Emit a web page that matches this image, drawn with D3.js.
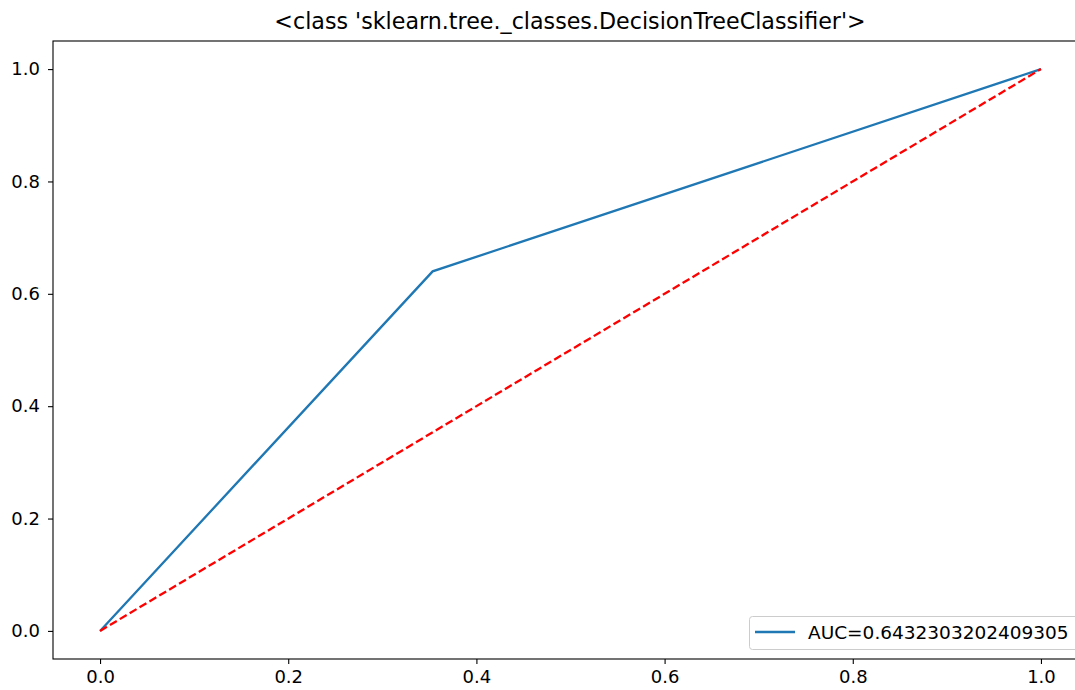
<!DOCTYPE html>
<html><head><meta charset="utf-8">
<script src="https://cdn.jsdelivr.net/npm/d3@7"></script>
<style>body{margin:0;background:#fff;} svg{display:block;font-family:"DejaVu Sans",sans-serif;}</style>
</head><body>
<script>
const title = "<class 'sklearn.tree._classes.DecisionTreeClassifier'>";
const fpr = [0.0, 0.3535, 1.0];
const tpr = [0.0, 0.64, 1.0];
const diagX = [0, 1];
const diagY = [0, 1];
const legendLabel = "AUC=0.6432303202409305";
const xTicks = [0.0, 0.2, 0.4, 0.6, 0.8, 1.0];
const yTicks = [0.0, 0.2, 0.4, 0.6, 0.8, 1.0];

const W = 1075, H = 690;
const svg = d3.select("body").append("svg").attr("width", W).attr("height", H);
const x = d3.scaleLinear().domain([-0.05, 1.05]).range([53, 1088]);
const y = d3.scaleLinear().domain([-0.05, 1.05]).range([659, 41]);

const fmt = d3.format(".1f");
const xa = svg.append("g").attr("transform", `translate(0,${y(-0.05)})`)
  .call(d3.axisBottom(x).tickValues(xTicks).tickFormat(fmt).tickSize(5).tickPadding(6));
const ya = svg.append("g").attr("transform", `translate(${x(-0.05)},0)`)
  .call(d3.axisLeft(y).tickValues(yTicks).tickFormat(fmt).tickSize(5).tickPadding(8));
[xa, ya].forEach(a => {
  a.select(".domain").remove();
  a.selectAll("text").attr("font-size", 18).attr("fill", "#000").attr("font-family", "DejaVu Sans");
  a.selectAll("line").attr("stroke", "#000").attr("stroke-width", 1.1);
});
// frame
svg.append("rect").attr("x", x(-0.05)).attr("y", y(1.05)).attr("width", x(1.05) - x(-0.05))
  .attr("height", y(-0.05) - y(1.05)).attr("fill", "none").attr("stroke", "#000").attr("stroke-width", 1.1);

const line = d3.line().x(d => x(d[0])).y(d => y(d[1]));
svg.append("path").datum(fpr.map((v, i) => [v, tpr[i]])).attr("d", line)
  .attr("fill", "none").attr("stroke", "#1f77b4").attr("stroke-width", 2.3);
svg.append("path").datum(diagX.map((v, i) => [v, diagY[i]])).attr("d", line)
  .attr("fill", "none").attr("stroke", "#ff0000").attr("stroke-width", 2.3).attr("stroke-dasharray", "8,3.5");

svg.append("text").attr("x", 570).attr("y", 29).attr("text-anchor", "middle")
  .attr("font-size", 22.2).text(title);

// legend
const lg = svg.append("g");
lg.append("rect").attr("x", 749.5).attr("y", 616.5).attr("width", 334).attr("height", 33).attr("rx", 3)
  .attr("fill", "#fff").attr("fill-opacity", 0.8).attr("stroke", "#ccc").attr("stroke-width", 1);
lg.append("line").attr("x1", 755).attr("x2", 795).attr("y1", 632).attr("y2", 632)
  .attr("stroke", "#1f77b4").attr("stroke-width", 2.3);
lg.append("text").attr("x", 808).attr("y", 639).attr("font-size", 18.5).text(legendLabel);
</script>
</body></html>
